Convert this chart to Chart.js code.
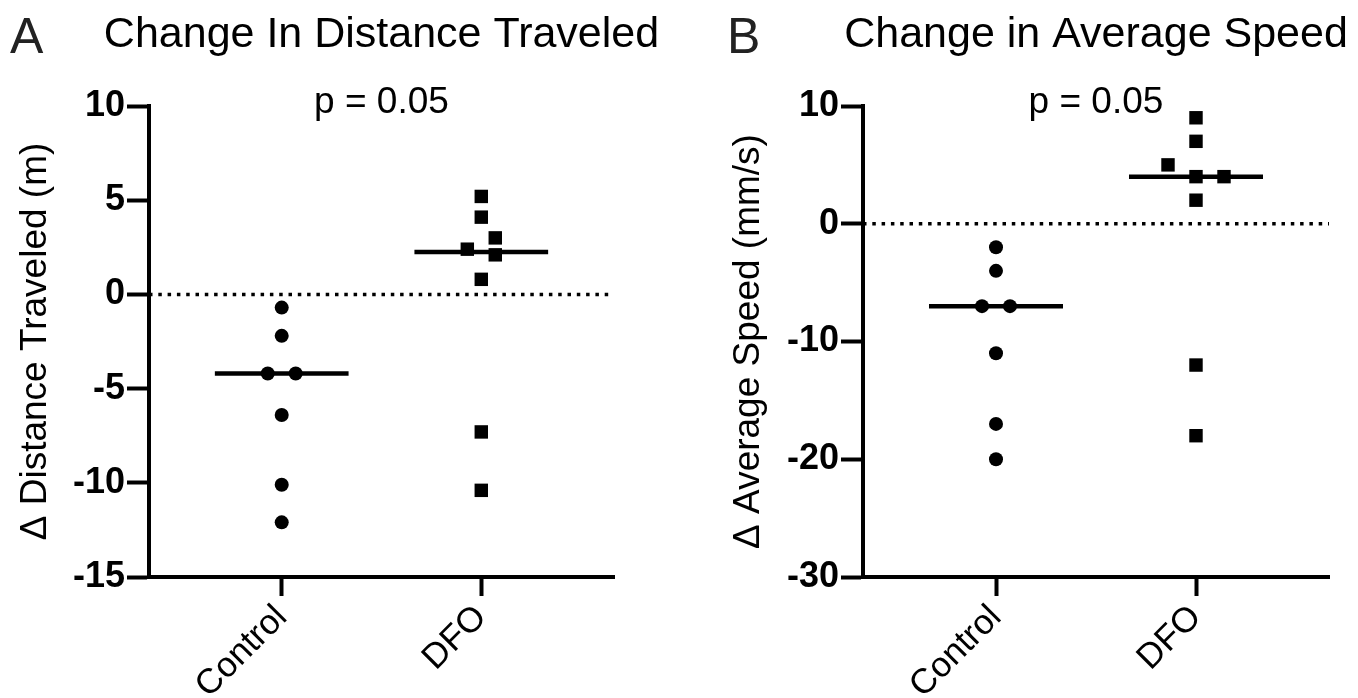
<!DOCTYPE html>
<html lang="en">
<head>
<meta charset="UTF-8">
<title>Change in Distance Traveled / Average Speed</title>
<script src="https://cdn.jsdelivr.net/npm/chart.js"></script>
<style>
  body { margin: 0; background: #fff; }
  #wrap { position: relative; width: 1358px; height: 698px; overflow: hidden; }
  canvas { position: absolute; top: 0; }
  #chartA { left: 0; }
  #chartB { left: 680px; }
</style>
</head>
<body>
<div id="wrap">
  <canvas id="chartA" width="680" height="698"></canvas>
  <canvas id="chartB" width="678" height="698"></canvas>
</div>
<script>
const groups = ['Control', 'DFO'];

// A - change in distance traveled (m)
const distControl = [-0.7, -2.2, -4.2, -4.2, -6.4, -10.1, -12.1];
const distDFO = [5.2, 4.1, 3.0, 2.4, 2.1, 0.8, -7.3, -10.4];
// side-by-side slot of each point (so overlapping dots don't hide each other)
const distControlSlot = [0, 0, -1, 1, 0, 0, 0];
const distDFOSlot = [0, 0, 1, -1, 1, 0, 0, 0];
const distTicks = [-15, -10, -5, 0, 5, 10];

// B - change in average speed (mm/s)
const speedControl = [-2, -4, -7, -7, -11, -17, -20];
const speedDFO = [9, 7, 5, 4, 4, 2, -12, -18];
const speedControlSlot = [0, 0, -1, 1, 0, 0, 0];
const speedDFOSlot = [0, 0, -2, 0, 2, 0, 0, 0];
const speedTicks = [-30, -20, -10, 0, 10];

const pText = 'p = 0.05';

const FONT = "'Liberation Sans', Arial, Helvetica, sans-serif";
const X_MIN = 0.335, X_MAX = 2.665;
const SLOT_W = 0.07;   // jitter step in category units
const HALF_MEDIAN = 0.335;

function median(arr) {
  const s = [...arr].sort((a, b) => a - b);
  const m = Math.floor(s.length / 2);
  return s.length % 2 ? s[m] : (s[m - 1] + s[m]) / 2;
}

function points(vals, slots, pos) {
  return vals.map((v, i) => ({ x: pos + slots[i] * SLOT_W, y: v }));
}

function medianLine(vals, pos) {
  const m = median(vals);
  return [{ x: pos - HALF_MEDIAN, y: m }, { x: pos + HALF_MEDIAN, y: m }];
}

// panel letter, title and p value (drawn by hand so the title isn't squeezed)
const panelText = {
  id: 'panelText',
  afterDraw(chart, args, opts) {
    const { ctx, chartArea } = chart;
    const cx = (chartArea.left + chartArea.right) / 2;
    ctx.save();
    ctx.textBaseline = 'alphabetic';
    ctx.fillStyle = '#222';
    ctx.font = '50px ' + FONT;
    ctx.textAlign = 'left';
    ctx.fillText(opts.letter, opts.letterX, 53);
    ctx.fillStyle = '#000';
    ctx.font = '43px ' + FONT;
    ctx.textAlign = 'center';
    ctx.fillText(opts.title, cx, 47);
    ctx.font = '37px ' + FONT;
    ctx.fillText(pText, cx, 113);
    ctx.restore();
  }
};

function makeChart(id, cfg) {
  const c0 = points(cfg.control, cfg.controlSlot, 1);
  const c1 = points(cfg.dfo, cfg.dfoSlot, 2);
  return new Chart(document.getElementById(id), {
    type: 'scatter',
    data: {
      datasets: [
        {
          type: 'line', data: [{ x: X_MIN, y: 0 }, { x: X_MAX, y: 0 }],
          borderColor: '#000', borderWidth: 3.5, borderDash: [3.5, 5.8],
          pointRadius: 0, fill: false
        },
        {
          type: 'line', data: medianLine(cfg.control, 1),
          borderColor: '#000', borderWidth: 4.5, pointRadius: 0, fill: false
        },
        {
          type: 'line', data: medianLine(cfg.dfo, 2),
          borderColor: '#000', borderWidth: 4.5, pointRadius: 0, fill: false
        },
        {
          label: groups[0], data: c0, pointStyle: 'circle',
          pointRadius: 7, backgroundColor: '#000', borderWidth: 0
        },
        {
          label: groups[1], data: c1, pointStyle: 'rect',
          pointRadius: 9.5, backgroundColor: '#000', borderWidth: 0
        }
      ]
    },
    options: {
      responsive: false,
      animation: false,
      layout: { padding: { left: cfg.padLeft, right: cfg.padRight, top: 106, bottom: 0 } },
      plugins: {
        legend: { display: false },
        tooltip: { enabled: false },
        title: { display: false },
        panelText: { letter: cfg.letter, letterX: cfg.letterX, title: cfg.title }
      },
      scales: {
        x: {
          type: 'linear', min: X_MIN, max: X_MAX,
          afterBuildTicks: (s) => { s.ticks = groups.map((g, i) => ({ value: i + 1 })); },
          afterFit: (s) => { s.height = 121; },
          grid: { drawOnChartArea: false, drawTicks: true, tickLength: 19, tickWidth: 4, tickColor: '#000' },
          border: { display: true, color: '#000', width: 4 },
          ticks: {
            color: '#000', font: { family: FONT, size: 35 }, padding: 1,
            minRotation: 45, maxRotation: 45,
            callback: (v) => groups[Math.round(v) - 1]
          }
        },
        y: {
          min: cfg.ticks[0], max: cfg.ticks[cfg.ticks.length - 1],
          afterBuildTicks: (s) => { s.ticks = cfg.ticks.map(v => ({ value: v })); },
          afterFit: (s) => { s.width = cfg.axisW; },
          grid: { drawOnChartArea: false, drawTicks: true, tickLength: 22, tickWidth: 4, tickColor: '#000' },
          border: { display: true, color: '#000', width: 4 },
          ticks: { color: '#000', font: { family: FONT, size: 36, weight: 'bold' }, padding: 2 },
          title: {
            display: true, text: cfg.yTitle, color: '#000', padding: 0,
            font: { family: FONT, size: 37, weight: 'normal' }
          }
        }
      }
    },
    plugins: [panelText]
  });
}

makeChart('chartA', {
  control: distControl, dfo: distDFO,
  controlSlot: distControlSlot, dfoSlot: distDFOSlot,
  ticks: distTicks,
  title: 'Change In Distance Traveled',
  yTitle: '\u0394 Distance Traveled (m)',
  letter: 'A', letterX: 10,
  padLeft: 14, axisW: 135, padRight: 66
});

makeChart('chartB', {
  control: speedControl, dfo: speedDFO,
  controlSlot: speedControlSlot, dfoSlot: speedDFOSlot,
  ticks: speedTicks,
  title: 'Change in Average Speed',
  yTitle: '\u0394 Average Speed (mm/s)',
  letter: 'B', letterX: 47,
  padLeft: 47, axisW: 136, padRight: 29
});
</script>
</body>
</html>
